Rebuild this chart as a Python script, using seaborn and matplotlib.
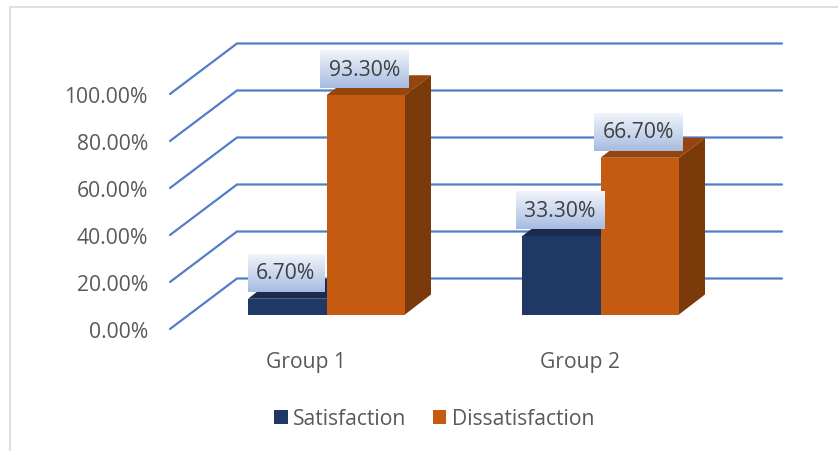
import matplotlib
matplotlib.use("Agg")
import numpy as np
import pandas as pd
import seaborn as sns
import matplotlib.pyplot as plt
from matplotlib.image import BboxImage
from matplotlib.patches import Polygon, Rectangle
from matplotlib.transforms import Bbox, Affine2D, IdentityTransform
from matplotlib.lines import Line2D

groups = ["Group 1", "Group 2"]
series = ["Satisfaction", "Dissatisfaction"]
satisfaction = [6.7, 33.3]
dissatisfaction = [93.3, 66.7]
y_ticks = [0, 20, 40, 60, 80, 100]
front_colors = ["#1F3864", "#C55A11"]
top_colors = ["#1A2B4E", "#96450C"]
side_colors = ["#18294B", "#7B3A09"]
FS = 15.2

W, H = 838, 452
sns.set_theme(style="white")
plt.rcParams["font.family"] = ["Open Sans", "DejaVu Sans"]
fig = plt.figure(figsize=(W / 100, H / 100), dpi=100)

# axes = front edge plane of the chart floor
L, R, T, B = 170, 782, 95, 330
ax = fig.add_axes([L / W, 1 - B / H, (R - L) / W, (B - T) / H])
ax.patch.set_alpha(0)
df = pd.DataFrame({
    "group": groups * 2,
    "series": [series[0]] * 2 + [series[1]] * 2,
    "value": satisfaction + dissatisfaction,
})
sns.barplot(data=df, x="group", y="value", hue="series", hue_order=series,
            palette=front_colors, width=0.573, saturation=1, legend=False, ax=ax)
ax.set_ylim(0, 100)
ppc = 274
ax.set_xlim(-(306 - L) / ppc, (R - 306) / ppc)
for s in ax.spines.values():
    s.set_visible(False)
ax.set_xlabel("")
ax.set_ylabel("")
ax.set_yticks(y_ticks)
ax.set_yticklabels([f"{v:.2f}%" for v in y_ticks], fontsize=FS, color="#595959")
ax.tick_params(axis="y", length=0, pad=16)
ax.tick_params(axis="x", length=0, pad=16, labelsize=FS, labelcolor="#595959")
ax.grid(False)

# gridlines: front edge, side wall, back wall
gt = ax.get_yaxis_transform()
wall_dx = 67 / (R - L)
wall_dy = 50.5 / (B - T) * 100
for v in y_ticks:
    ax.plot([0, wall_dx, 1], [v, v + wall_dy, v + wall_dy], transform=gt,
            color="#4472C4", lw=1.6, alpha=0.92, zorder=1, clip_on=False,
            solid_joinstyle="miter", solid_capstyle="round")

# 3D extrusion and labels built from seaborn's bars
fig.canvas.draw()
renderer = fig.canvas.get_renderer()
identity = IdentityTransform()
SX, SY = 20.5, 14.5
DX, DY = 26, 20
top_rgb = np.array([0.945, 0.957, 0.984])
bot_rgb = np.array([0.655, 0.737, 0.886])
grad = np.linspace(0, 1, 64)[:, None, None]
grad_rgb = top_rgb + (bot_rgb - top_rgb) * grad

for sidx, c in enumerate(ax.containers):
    for p in c:
        (x0, y0), (x1, y1) = ax.transData.transform(
            [(p.get_x(), p.get_y()), (p.get_x() + p.get_width(), p.get_y() + p.get_height())])
        p.set_transform(ax.transData + Affine2D().translate(SX, SY))
        p.set_edgecolor("none")
        p.set_zorder(4 + sidx)
        p.set_clip_on(False)
        x0, x1, y0, y1 = x0 + SX, x1 + SX, y0 + SY, y1 + SY
        ax.add_patch(Polygon([(x0, y1), (x1, y1), (x1 + DX, y1 + DY), (x0 + DX, y1 + DY)],
                             closed=True, transform=identity, fc=top_colors[sidx],
                             ec="none", zorder=2, clip_on=False))
        ax.add_patch(Polygon([(x1, y0), (x1 + DX, y0 + DY), (x1 + DX, y1 + DY), (x1, y1)],
                             closed=True, transform=identity, fc=side_colors[sidx],
                             ec="none", zorder=2, clip_on=False))
        cx, cy = (x0 + x1) / 2 - 1.5, y1 + 26
        txt = ax.text(cx, cy, f"{p.get_height():.2f}%", transform=identity, ha="center",
                      va="center", fontsize=FS, color="#404040", zorder=11, clip_on=False)
        hw = (txt.get_window_extent(renderer).width + 17) / 2
        im = BboxImage(Bbox.from_extents(cx - hw, cy - 19, cx + hw, cy + 19),
                       interpolation="bilinear", zorder=10, origin="upper")
        im.set_data(grad_rgb)
        ax.add_artist(im)
        im.set_clip_on(False)
        im.set_clip_path(None)

# legend
handles = [Rectangle((0, 0), 1, 1, fc=c, ec="none") for c in front_colors]
fig.legend(handles, series, loc="center", bbox_to_anchor=(434 / W, 1 - 420 / H),
           ncol=2, frameon=False, fontsize=FS, labelcolor="#595959",
           handlelength=0.65, handleheight=0.65, handletextpad=0.25, columnspacing=1.25)

# chart frame (top and left edges only)
fig.add_artist(Line2D([10 / W, 10 / W], [0, 1 - 8 / H], color="#E0E0E0", lw=1.4))
fig.add_artist(Line2D([10 / W, 1], [1 - 8 / H, 1 - 8 / H], color="#E0E0E0", lw=1.4))

fig.savefig("out.png", dpi=100)
